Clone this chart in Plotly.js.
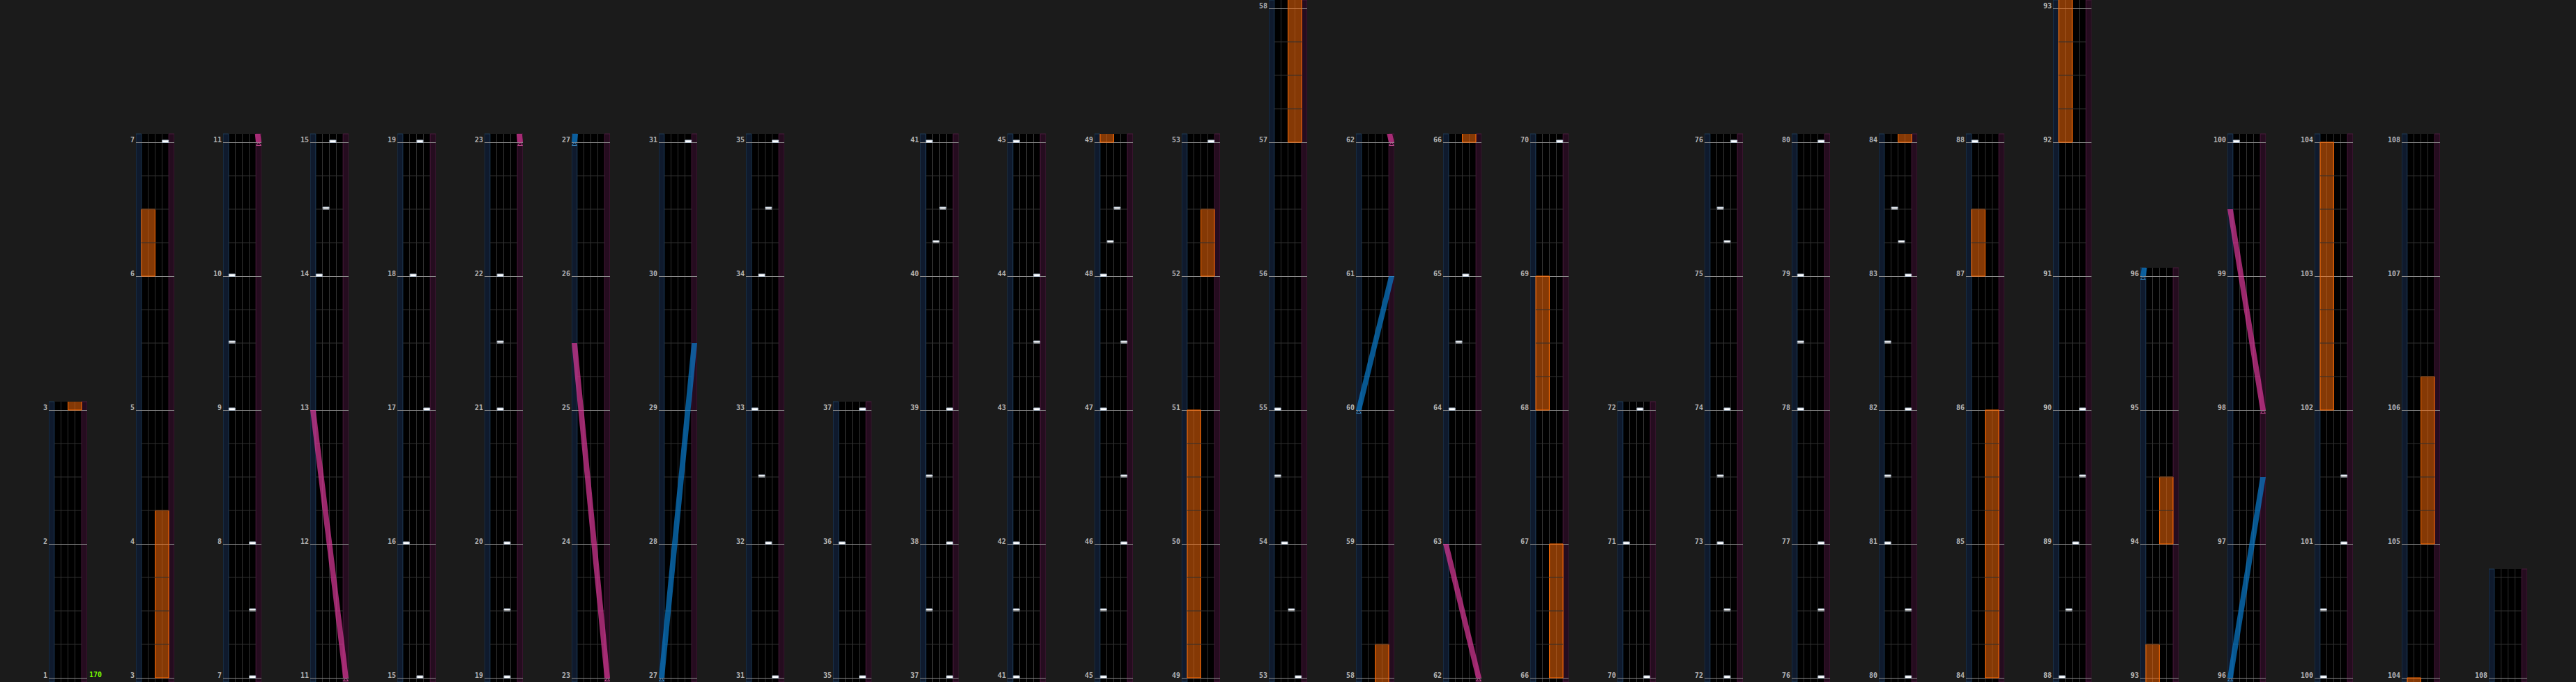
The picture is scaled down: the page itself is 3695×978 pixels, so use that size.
<!DOCTYPE html>
<html><head><meta charset="utf-8">
<script src="https://cdn.plot.ly/plotly-3.0.1.min.js"></script>
<style>html,body{margin:0;padding:0;background:#1b1b1b;overflow:hidden}#chart{width:3695px;height:978px}</style>
</head><body><div id="chart"></div>
<script>
// ---------------- data ----------------
const columnStartMeasures = [1,3,7,11,15,19,23,27,31,35,37,41,45,49,53,58,62,66,70,72,76,80,84,88,93,96,100,104,108];
const chartEndMeasure = 108.75;

const bpmMeasures = [1];
const bpmValues = [170];

// BT chips: measure position and lane (1-4)
const chipMeasures = [
  7,7.5,8,9,9.5,10,
  14,14.5,15,
  16,17,18,19,
  19.5,20,21,21.5,22,
  31,
  32,32.5,33,34,34.5,35,
  36,37,
  37.5,38,38.5,39,40.25,40.5,41,
  41.5,42,43,43.5,44,45,
  45.5,46,46.5,47,47.5,48,48.25,48.5,
  53,
  53.5,54,54.5,55,
  64,64.5,65,
  70,71,72,
  72.5,73,73.5,74,75.25,75.5,76,
  76.5,77,78,78.5,79,80,
  80.5,81,81.5,82,82.5,83,83.25,83.5,
  88,88.5,89,89.5,90,
  100,100.5,101,101.5
];
const chipLanes = [
  4,4,4,1,1,1,
  1,2,3,
  1,4,2,3,
  3,3,2,2,2,
  4,
  3,2,1,2,3,4,
  1,4,
  1,4,1,4,2,3,1,
  1,1,4,4,4,1,
  1,4,4,1,4,1,2,3,
  4,
  3,2,1,1,
  1,2,3,
  4,1,3,
  3,2,2,3,3,2,4,
  4,4,1,1,1,4,
  4,1,1,4,1,4,3,2,
  1,2,3,4,4,
  1,1,4,4
];

// FX holds
const fxStarts = [3,   6,   49, 52,   57,    66, 68, 84, 87,   92,    94,   102, 105];
const fxEnds   = [4.25,6.5, 51, 52.5, 58.25, 67, 69, 86, 87.5, 93.25, 94.5, 104, 106.25];
const fxSides  = ['R','L', 'L','R',  'R',   'R','L','R','L',  'L',   'R',  'L', 'R'];

// lasers (0 = left edge, 1 = right edge)
const laserSides  = ['R','R','L','L','R','L','R'];
const laserStarts = [11, 23,  27,  60, 62, 96,  98];
const laserEnds   = [13, 25.5,29.5,61, 63, 97.5,99.5];
const laserFrom   = [1,  1,   0,   0,  1,  0,   1];
const laserTo     = [0,  0,   1,   1,  0,  1,   0];

// ---------------- layout constants ----------------
const W = 3695, H = 978, PXM = 192;
const COL_LEFT = 70, COL_STEP = 125, COL_W = 55;
const XMAX = 5.6, LANE0 = 0.8, LANE1 = 4.8;

const traces = [];
const layout = {
  width: W, height: H,
  margin: {l:0, r:0, t:0, b:0},
  paper_bgcolor: '#1b1b1b', plot_bgcolor: '#000000',
  showlegend: false, barmode: 'overlay', bargap: 0,
  shapes: [], annotations: [],
  font: {family: 'DejaVu Sans Mono', color: '#b4b4b4', size: 10}
};

const nCols = columnStartMeasures.length;
for (let k = 0; k < nCols; k++) {
  const id = k === 0 ? '' : String(k + 1);
  const xa = 'x' + id, ya = 'y' + id;
  const start = columnStartMeasures[k];
  const top = k < nCols - 1 ? columnStartMeasures[k + 1] : chartEndMeasure;
  const lo = start - 6 / PXM, hi = top + 12 / PXM;
  const leftPx = COL_LEFT + COL_STEP * k;
  const ticks = [];
  for (let m = start; m <= top + 1e-9; m++) ticks.push(m);

  layout['xaxis' + id] = {
    domain: [leftPx / W, (leftPx + COL_W) / W], range: [0, XMAX], anchor: ya,
    tickvals: [1.8, 2.8, 3.8], showticklabels: false, ticks: '',
    showgrid: true, gridcolor: '#2f2f2f', gridwidth: 1, zeroline: false, showline: false, fixedrange: true
  };
  layout['yaxis' + id] = {
    domain: [0, (hi - lo) * PXM / H], range: [lo, hi], anchor: xa,
    tickvals: ticks, ticktext: ticks.map(String), ticks: '',
    ticklabelshift: -4, ticklabelstandoff: 1, ticklabeloverflow: 'allow',
    tickfont: {family: 'DejaVu Sans Mono', size: 10, color: '#b4b4b4', weight: 'bold'},
    showgrid: true, gridcolor: '#8a8a8a', gridwidth: 1, zeroline: false, showline: false, fixedrange: true
  };

  // laser lanes background
  layout.shapes.push({type:'rect', layer:'below', xref:xa, yref:ya + ' domain', x0:0, x1:LANE0, y0:0, y1:1,
    fillcolor:'#0f1a2d', line:{color:'#1e3a56', width:1}});
  layout.shapes.push({type:'rect', layer:'below', xref:xa, yref:ya + ' domain', x0:LANE1, x1:XMAX, y0:0, y1:1,
    fillcolor:'#250c1f', line:{color:'#4a1a3c', width:1}});

  // beat lines across the four lanes
  const bx = [], by = [];
  for (let q = Math.ceil(lo * 4) / 4; q <= hi; q += 0.25) {
    if (Math.abs(q - Math.round(q)) < 1e-9 && q <= top + 1e-9) continue;
    bx.push(LANE0, LANE1, null); by.push(q, q, null);
  }
  traces.push({type:'scatter', mode:'lines', x:bx, y:by, xaxis:xa, yaxis:ya,
    line:{color:'#303030', width:1}, hoverinfo:'skip'});

  // FX holds
  const fx = [], fb = [], fl = [];
  for (let i = 0; i < fxStarts.length; i++) {
    if (fxEnds[i] < lo || fxStarts[i] > hi) continue;
    fx.push(fxSides[i] === 'L' ? LANE0 + 1 : LANE0 + 3);
    fb.push(fxStarts[i]); fl.push(fxEnds[i] - fxStarts[i]);
  }
  if (fx.length) traces.push({type:'bar', x:fx, y:fl, base:fb, width:1.97, xaxis:xa, yaxis:ya,
    marker:{color:'rgba(255,110,10,0.52)', line:{color:'#ff6a00', width:1}}, hoverinfo:'skip'});

  // lasers
  for (let j = 0; j < laserStarts.length; j++) {
    if (laserEnds[j] < lo || laserStarts[j] > hi) continue;
    const x0 = 0.4 + laserFrom[j] * 4.8, x1 = 0.4 + laserTo[j] * 4.8;
    const col = laserSides[j] === 'L' ? 'rgba(10,120,200,0.72)' : 'rgba(215,55,150,0.72)';
    traces.push({type:'scatter', mode:'lines', fill:'toself', xaxis:xa, yaxis:ya,
      x:[x0 - 0.4, x0 + 0.4, x1 + 0.4, x1 - 0.4, x0 - 0.4],
      y:[laserStarts[j], laserStarts[j], laserEnds[j], laserEnds[j], laserStarts[j]],
      fillcolor: col, line:{width:0, color:col}, hoverinfo:'skip'});
    traces.push({type:'scatter', mode:'markers', xaxis:xa, yaxis:ya,
      x:[x0], y:[laserStarts[j] - 3 / PXM],
      marker:{symbol:'triangle-up-open', size:6, color: laserSides[j] === 'L' ? '#3a8cc8' : '#d0509a', line:{width:1}},
      hoverinfo:'skip'});
  }

  // BT chips
  const cx = [], cb = [];
  for (let i = 0; i < chipMeasures.length; i++) {
    if (chipMeasures[i] < lo - 0.02 || chipMeasures[i] > hi) continue;
    cx.push(LANE0 + chipLanes[i] - 0.5); cb.push(chipMeasures[i] - 0.5 / PXM);
  }
  if (cx.length) traces.push({type:'bar', x:cx, y:cx.map(() => 3.5 / PXM), base:cb, width:0.9, xaxis:xa, yaxis:ya,
    marker:{color:'#ffffff', line:{color:'#aebccc', width:1}}, hoverinfo:'skip'});

  // BPM labels
  for (let i = 0; i < bpmMeasures.length; i++) {
    if (bpmMeasures[i] < lo || bpmMeasures[i] > hi) continue;
    layout.annotations.push({xref:xa, yref:ya, x:XMAX, y:bpmMeasures[i], text:String(bpmValues[i]),
      showarrow:false, xanchor:'left', yanchor:'middle', xshift:1, yshift:4,
      font:{family:'DejaVu Sans Mono', size:10, color:'#77ff00', weight:'bold'}});
  }
}

Plotly.newPlot('chart', traces, layout, {displayModeBar:false, staticPlot:true});
</script></body></html>
